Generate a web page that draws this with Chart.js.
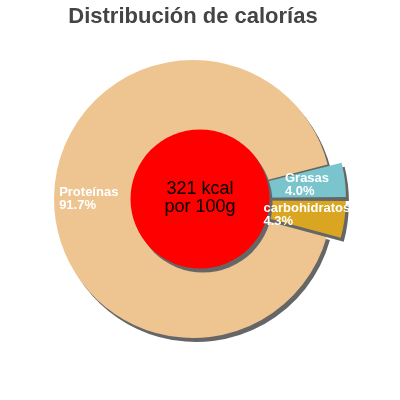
<!DOCTYPE html>
<html>
<head>
<meta charset="utf-8">
<script src="https://cdn.jsdelivr.net/npm/chart.js@4"></script>
<style>
  html, body { margin: 0; padding: 0; background: #fff; }
  #wrap { width: 400px; height: 400px; }
</style>
</head>
<body>
<div id="wrap"><canvas id="calorias" width="400" height="400"></canvas></div>
<script>
var labels = ["Proteínas", "Grasas", "carbohidratos"];
var values = [91.7, 4.0, 4.3];
var colors = ["#EEC591", "#7AC5CD", "#DAA520"];
var offsets = [0, 32, 32];
var centerLines = ["321 kcal", "por 100g"];

var total = values.reduce(function (a, b) { return a + b; }, 0);
// start Proteínas just below the horizontal, so the small slices sit on the right
var rotation = 90 + values[2] / total * 360;

var shadowPlugin = {
    id: 'shadowAndLabels',
    beforeDatasetsDraw: function (chart) {
        var ctx = chart.ctx;
        ctx.save();
        ctx.shadowColor = '#666';
        ctx.shadowOffsetX = 3;
        ctx.shadowOffsetY = 4;
        ctx.shadowBlur = 0;
    },
    afterDatasetsDraw: function (chart) {
        var ctx = chart.ctx;
        ctx.restore();
        var arcs = chart.getDatasetMeta(0).data;
        var first = arcs[0];
        var holeR = first.outerRadius / 2;

        // red centre disc, covers the ring's hole
        ctx.save();
        ctx.shadowColor = '#666';
        ctx.shadowOffsetX = 3;
        ctx.shadowOffsetY = 4;
        ctx.beginPath();
        ctx.arc(chart.width / 2, first.y, holeR, 0, Math.PI * 2);
        ctx.fillStyle = '#FF0000';
        ctx.fill();
        ctx.restore();

        ctx.save();
        ctx.fillStyle = '#000';
        ctx.font = '18px "Liberation Sans", Arial, sans-serif';
        ctx.textAlign = 'center';
        ctx.textBaseline = 'middle';
        ctx.fillText(centerLines[0], chart.width / 2, first.y - 10);
        ctx.fillText(centerLines[1], chart.width / 2, first.y + 8);
        ctx.restore();

        // slice labels
        ctx.save();
        ctx.fillStyle = '#fff';
        ctx.font = 'bold 13px "Liberation Sans", Arial, sans-serif';
        ctx.textAlign = 'left';
        ctx.textBaseline = 'middle';
        arcs.forEach(function (arc, i) {
            var mid = (arc.startAngle + arc.endAngle) / 2;
            var r = (holeR + arc.outerRadius) / 2 + offsets[i] / 3;
            var x = arc.x + Math.cos(mid) * r;
            var y = arc.y + Math.sin(mid) * r;
            var lines = [labels[i], (values[i] / total * 100).toFixed(1) + '%'];
            var w = Math.max.apply(null, lines.map(function (t) { return ctx.measureText(t).width; }));
            ctx.fillText(lines[0], x - w / 2, y - 6);
            ctx.fillText(lines[1], x - w / 2, y + 7);
        });
        ctx.restore();
    }
};

var context = document.getElementById('calorias').getContext('2d');

new Chart(context, {
    type: 'doughnut',
    data: {
        labels: labels,
        datasets: [{
            data: values,
            backgroundColor: colors,
            offset: offsets,
            borderWidth: 0,
            hoverBorderWidth: 0,
            hoverOffset: 0
        }]
    },
    options: {
        responsive: false,
        animation: false,
        events: [],
        cutout: '30%',
        rotation: rotation,
        layout: {
            padding: { left: 38, right: 52, top: 0, bottom: 46 }
        },
        plugins: {
            legend: { display: false },
            tooltip: { enabled: false },
            title: {
                display: true,
                text: 'Distribución de calorías',
                color: '#444',
                font: { family: '"Liberation Sans", Arial, sans-serif', size: 22, weight: 'bold', lineHeight: 1.2 },
                padding: { top: 4, bottom: 13.6 }
            }
        }
    },
    plugins: [shadowPlugin]
});
</script>
</body>
</html>
